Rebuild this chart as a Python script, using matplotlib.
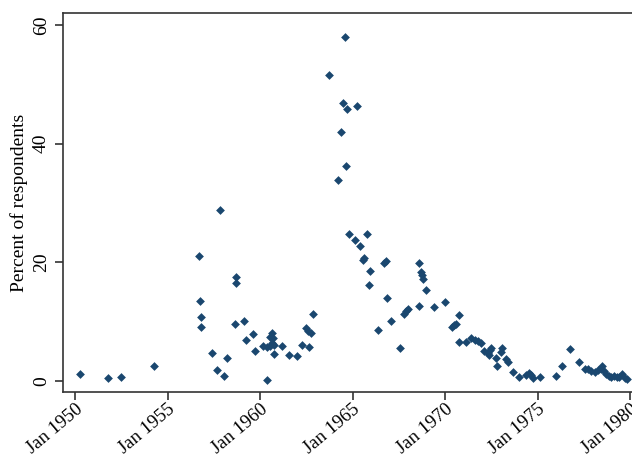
import matplotlib
matplotlib.use('Agg')
import matplotlib.pyplot as plt

plt.rcParams['font.family'] = ['Liberation Serif', 'DejaVu Serif']

# survey dates (decimal years) and percent of respondents
years = [1950.28, 1951.80, 1952.46, 1954.29, 1956.71, 1956.77, 1956.82, 1956.82,
         1957.40, 1957.69, 1957.81, 1958.04, 1958.19, 1958.66, 1958.71, 1958.71,
         1959.13, 1959.24, 1959.60, 1959.71, 1960.14, 1960.36, 1960.36, 1960.54,
         1960.67, 1960.72, 1960.63, 1960.54, 1960.78, 1960.75, 1961.17, 1961.57,
         1961.98, 1962.29, 1962.65, 1962.49, 1962.60, 1962.76, 1962.85, 1963.73,
         1964.24, 1964.37, 1964.51, 1964.57, 1964.64, 1964.69, 1964.82, 1965.14,
         1965.23, 1965.40, 1965.56, 1965.60, 1965.76, 1965.87, 1965.92, 1966.39,
         1966.68, 1966.80, 1966.84, 1967.07, 1967.58, 1967.76, 1967.89, 1968.01,
         1968.58, 1968.58, 1968.69, 1968.76, 1968.83, 1968.97, 1969.39, 1970.02,
         1970.38, 1970.50, 1970.61, 1970.74, 1970.78, 1971.14, 1971.41, 1971.61,
         1971.79, 1971.93, 1972.13, 1972.31, 1972.40, 1972.42, 1972.51, 1972.78,
         1972.82, 1973.00, 1973.09, 1973.30, 1973.38, 1973.68, 1974.02, 1974.37,
         1974.53, 1974.66, 1974.78, 1975.16, 1976.00, 1976.30, 1976.76, 1977.22,
         1977.56, 1977.74, 1977.90, 1978.09, 1978.27, 1978.43, 1978.47, 1978.60,
         1978.71, 1978.85, 1978.95, 1979.15, 1979.30, 1979.41, 1979.57, 1979.75,
         1979.82]
percent = [1.1, 0.5, 0.7, 2.5, 21.1, 13.5, 10.8, 9.1,
           4.7, 1.8, 28.8, 0.85, 3.9, 9.5, 17.5, 16.5,
           10.1, 6.8, 7.9, 5.0, 5.8, 0.1, 5.75, 7.4,
           8.0, 7.2, 6.4, 5.9, 6.0, 4.5, 5.9, 4.3,
           4.1, 6.0, 5.75, 8.9, 8.45, 8.0, 11.3, 51.5,
           33.8, 42.0, 46.9, 58.05, 36.2, 45.8, 24.7, 23.7,
           46.3, 22.7, 20.3, 20.7, 24.7, 16.2, 18.5, 8.6,
           19.85, 20.2, 13.9, 10.1, 5.5, 11.3, 11.7, 12.1,
           19.85, 12.6, 18.4, 17.9, 17.2, 15.3, 12.4, 13.3,
           9.1, 9.4, 9.6, 11.1, 6.5, 6.5, 7.2, 6.9,
           6.7, 6.4, 5.0, 4.6, 4.4, 5.2, 5.5, 3.8,
           2.5, 4.9, 5.5, 3.6, 3.2, 1.4, 0.6, 0.95,
           1.25, 0.9, 0.5, 0.57, 0.85, 2.45, 5.3, 3.2,
           1.95, 1.9, 1.7, 1.5, 1.85, 1.9, 2.4, 1.6,
           1.2, 0.85, 0.6, 0.8, 0.6, 0.6, 1.2, 0.5,
           0.35]

xtick_years = [1950, 1955, 1960, 1965, 1970, 1975, 1980]
xtick_labels = ['Jan %d' % y for y in xtick_years]
ytick_vals = [0, 20, 40, 60]

fig = plt.figure(figsize=(6.32, 4.54), dpi=100)
# axes frame runs off the right edge like the original crop
ax = fig.add_axes([63 / 632, 62 / 454, 577 / 632, 379 / 454])

ax.scatter(years, percent, marker='D', s=20, color='#1a476f', linewidths=0, zorder=3)

ax.set_xlim(1949.35, 1980.54)
ax.set_ylim(-1.91, 62.02)

ax.set_xticks(xtick_years)
ax.set_xticklabels(xtick_labels, rotation=40, ha='right', rotation_mode='anchor', fontsize=13.5)
ax.set_yticks(ytick_vals)
ax.set_yticklabels([str(v) for v in ytick_vals], rotation=90, va='center', fontsize=14)

ax.tick_params(axis='both', direction='out', length=5.8, width=1.2, color='#333333')
ax.tick_params(axis='x', pad=0.3)
ax.tick_params(axis='y', pad=3.5)

for side in ['left', 'bottom', 'top']:
    ax.spines[side].set_color('#333333')
    ax.spines[side].set_linewidth(1.2)
ax.spines['right'].set_visible(False)

ax.set_ylabel('Percent of respondents', fontsize=14, labelpad=4)

fig.savefig('out.png', dpi=100)
